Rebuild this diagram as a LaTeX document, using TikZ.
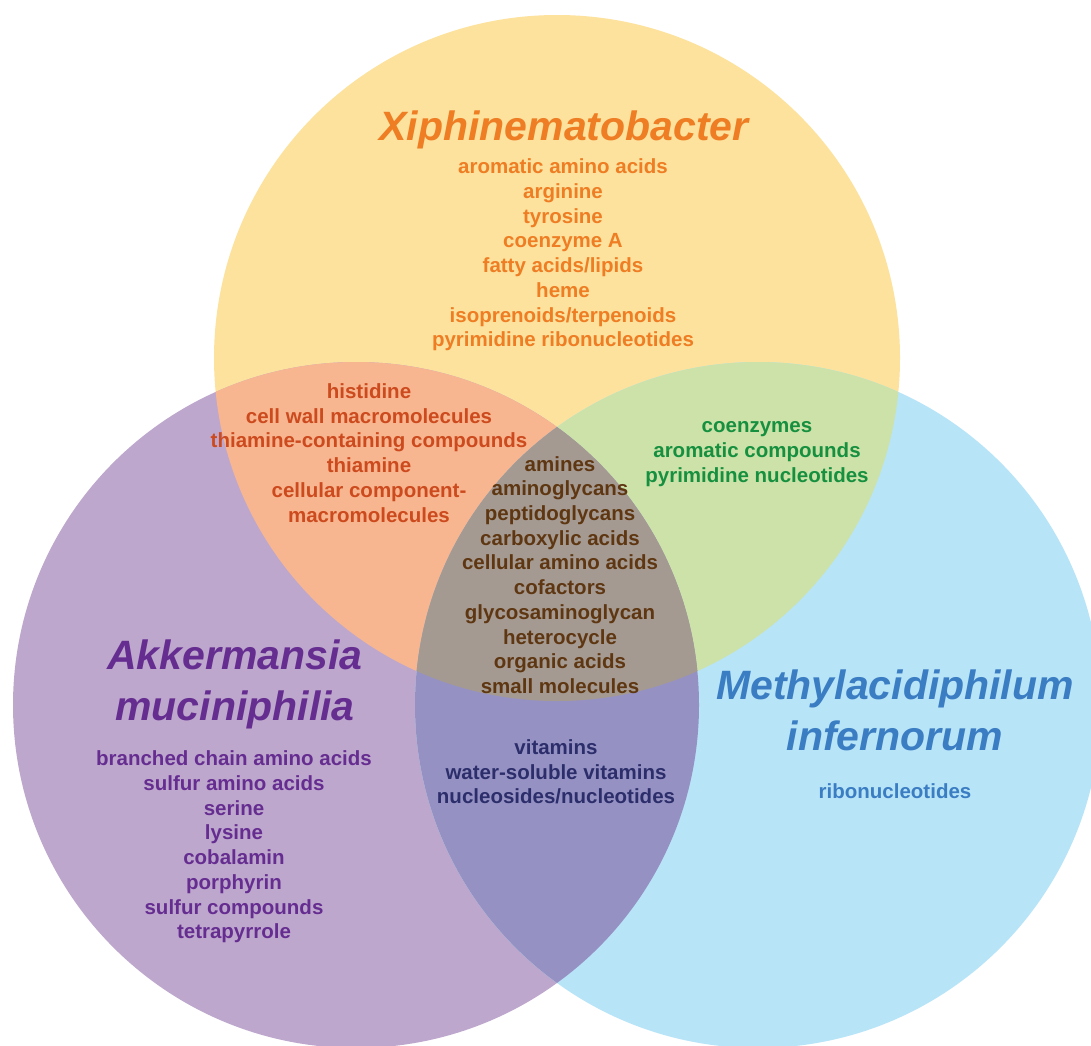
\documentclass[tikz,border=0pt]{standalone}
\usepackage{fontspec}
\setmainfont{Liberation Sans}
\definecolor{xiphfill}{HTML}{FDE29E}
\definecolor{akkfill}{HTML}{BEA7CD}
\definecolor{methfill}{HTML}{B8E4F8}
\definecolor{xafill}{HTML}{F7B68F}
\definecolor{xmfill}{HTML}{CCE2A8}
\definecolor{amfill}{HTML}{9592C3}
\definecolor{allfill}{HTML}{A59A92}
\definecolor{xiphtext}{HTML}{EE7D23}
\definecolor{xatext}{HTML}{CC4A1E}
\definecolor{xmtext}{HTML}{16903F}
\definecolor{alltext}{HTML}{5E3712}
\definecolor{amtext}{HTML}{2C2D6B}
\definecolor{akktext}{HTML}{662D91}
\definecolor{methtext}{HTML}{3A7DC3}
\begin{document}
\begin{tikzpicture}[x=1pt,y=-1pt,
    item/.style = {align=center,font=\fontsize{20.5}{24.7}\selectfont\bfseries},
    species/.style = {align=center,font=\fontsize{41}{51}\selectfont\bfseries\itshape}]
    \useasboundingbox (0,0) rectangle (1091,1045);
    \clip (0,0) rectangle (1091,1045);

    \coordinate (xiph) at (557,358);
    \coordinate (akk)  at (356,705);
    \coordinate (meth) at (758,705);

    % the three sets
    \fill[xiphfill] (xiph) circle (343pt);
    \fill[akkfill]  (akk)  circle (343pt);
    \fill[methfill] (meth) circle (343pt);

    % overlaps
    \begin{scope}
        \clip (xiph) circle (343pt);
        \fill[xafill] (akk) circle (343pt);
    \end{scope}
    \begin{scope}
        \clip (xiph) circle (343pt);
        \fill[xmfill] (meth) circle (343pt);
    \end{scope}
    \begin{scope}
        \clip (akk) circle (343pt);
        \fill[amfill] (meth) circle (343pt);
    \end{scope}
    \begin{scope}
        \clip (xiph) circle (343pt);
        \clip (akk) circle (343pt);
        \fill[allfill] (meth) circle (343pt);
    \end{scope}

    % labels
    \node[species,xiphtext] (xiphname) at (564,130) {Xiphinematobacter};
    \node[item,xiphtext] (xiphlist) at (563,255) {aromatic amino acids\\arginine\\tyrosine\\coenzyme A\\fatty acids/lipids\\heme\\isoprenoids/terpenoids\\pyrimidine ribonucleotides};

    \node[item,xatext] (xalist) at (369,453) {histidine\\cell wall macromolecules\\thiamine-containing compounds\\thiamine\\cellular component-\\macromolecules};

    \node[item,xmtext] (xmlist) at (757,454) {coenzymes\\aromatic compounds\\pyrimidine nucleotides};

    \node[item,alltext] (alllist) at (560,575) {amines\\aminoglycans\\peptidoglycans\\carboxylic acids\\cellular amino acids\\cofactors\\glycosaminoglycan\\heterocycle\\organic acids\\small molecules};

    \node[item,amtext] (amlist) at (556,772) {vitamins\\water-soluble vitamins\\nucleosides/nucleotides};

    \node[species,akktext] (akkname) at (235,684) {Akkermansia\\muciniphilia};
    \node[item,akktext] (akklist) at (234,847) {branched chain amino acids\\sulfur amino acids\\serine\\lysine\\cobalamin\\porphyrin\\sulfur compounds\\tetrapyrrole};

    \node[species,methtext] (methname) at (895,710) {Methylacidiphilum\\infernorum};
    \node[item,methtext] (methlist) at (895,791) {ribonucleotides};
\end{tikzpicture}
\end{document}
